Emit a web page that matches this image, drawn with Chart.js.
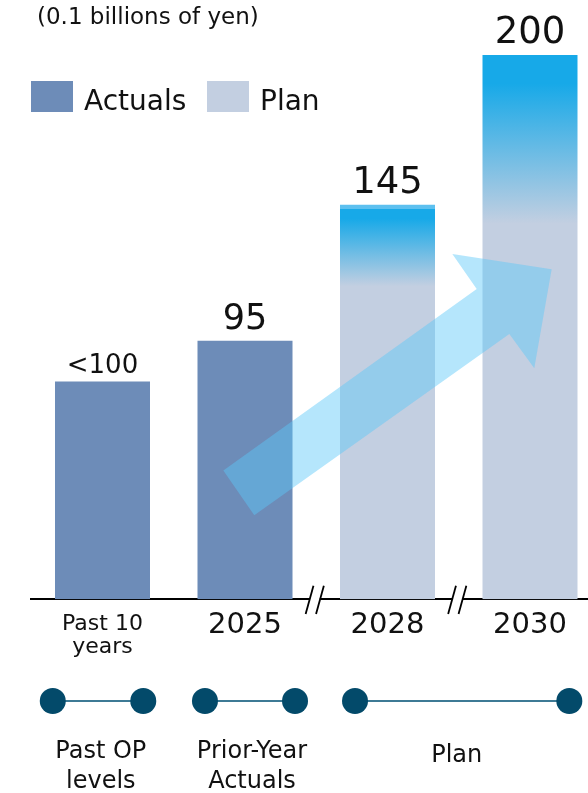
<!DOCTYPE html>
<html><head><meta charset="utf-8">
<script src="https://cdn.jsdelivr.net/npm/chart.js@4.4.1/dist/chart.umd.min.js"></script>
<style>
html,body{margin:0;padding:0;overflow:hidden;background:#fff;width:588px;height:793px}
canvas{display:block}
</style></head>
<body><canvas id="c" width="610" height="793"></canvas>
<script>
// ---- data ----
const categories = [['Past 10', 'years'], '2025', '2028', '2030'];
const actuals = [80, 95, null, null];
const plan = [null, null, 145, 200];
const valueLabels = ['<100', '95', '145', '200'];
const seriesNames = ['Actuals', 'Plan'];
const unitLabel = '(0.1 billions of yen)';
const periodLabels = [['Past OP', 'levels'], ['Prior-Year', 'Actuals'], ['Plan']];

// ---- styles ----
const FONT = '"DejaVu Sans", Verdana, sans-serif';
const TXT = '#111111';
const ACT_COLOR = '#6d8cb8';
const PLAN_COLOR = '#c3cfe1';
const BLUE = '#17a9e8';

function planFill(c) {
  if (c.type !== 'data' || c.raw == null) return PLAN_COLOR;
  const chart = c.chart;
  const y = chart.scales && chart.scales.y;
  if (!y || !chart.chartArea) return PLAN_COLOR;
  const top = y.getPixelForValue(c.raw);
  const fadeTo = {2: 115, 3: 138}[c.dataIndex];
  const end = y.getPixelForValue(fadeTo);
  const g = chart.ctx.createLinearGradient(0, top, 0, end);
  if (c.dataIndex === 2) {
    g.addColorStop(0, '#5dc0ef');
    g.addColorStop(0.05, '#5dc0ef');
    g.addColorStop(0.051, BLUE);
  } else {
    g.addColorStop(0, BLUE);
  }
  g.addColorStop(0.17, BLUE);
  g.addColorStop(1, PLAN_COLOR);
  return g;
}

const deco = {
  id: 'deco',
  afterDatasetsDraw(chart) {
    const {ctx, scales: {x, y}} = chart;
    // trend arrow (in data space)
    const pts = [[0.848, 47.3], [2.626, 114.0], [2.455, 126.9], [3.152, 121.3], [3.030, 84.9], [2.855, 97.5], [1.065, 30.9]];
    ctx.save();
    ctx.beginPath();
    pts.forEach(([a, b], i) => {
      const px = x.getPixelForValue(a), py = y.getPixelForValue(b);
      if (i) ctx.lineTo(px, py); else ctx.moveTo(px, py);
    });
    ctx.closePath();
    ctx.fillStyle = 'rgba(91,200,249,0.45)';
    ctx.fill();
    ctx.restore();

    // value labels
    const sizes = [26, 35, 37, 37];
    const gaps = [9, 12, 12, 12];
    ctx.save();
    ctx.fillStyle = TXT;
    ctx.textAlign = 'center';
    ctx.textBaseline = 'alphabetic';
    valueLabels.forEach((t, j) => {
      let el = null;
      chart.data.datasets.forEach((ds, i) => {
        if (ds.data[j] != null) el = chart.getDatasetMeta(i).data[j];
      });
      if (!el) return;
      ctx.font = sizes[j] + 'px ' + FONT;
      ctx.fillText(t, el.x, el.y - gaps[j]);
    });
    ctx.restore();
  },
  afterDraw(chart) {
    const {ctx, chartArea, scales: {x}} = chart;
    const b = chartArea.bottom;
    ctx.save();
    // axis breaks
    [1.5, 2.5].forEach(v => {
      const cx = x.getPixelForValue(v) - 1.5;
      ctx.fillStyle = '#fff';
      ctx.fillRect(cx - 5, b - 2, 10, 4);
      ctx.strokeStyle = '#000';
      ctx.lineWidth = 1.8;
      [-5.2, 5.2].forEach(dx => {
        const sx = cx + dx;
        ctx.beginPath();
        ctx.moveTo(sx - 3.9, b + 14.7);
        ctx.lineTo(sx + 3.9, b - 13.6);
        ctx.stroke();
      });
    });

    // unit label
    ctx.fillStyle = TXT;
    ctx.textAlign = 'left';
    ctx.textBaseline = 'alphabetic';
    ctx.font = '23px ' + FONT;
    ctx.fillText(unitLabel, 37, 24);

    // legend
    const legendItems = [[31, ACT_COLOR], [207, PLAN_COLOR]];
    ctx.font = '28px ' + FONT;
    legendItems.forEach(([lx, col], i) => {
      ctx.fillStyle = col;
      ctx.fillRect(lx, 81, 42, 31);
      ctx.fillStyle = TXT;
      ctx.fillText(seriesNames[i], lx + 53, 109.5);
    });

    // period timeline
    const segs = [[-0.349, 0.286], [0.719, 1.351], [1.772, 3.276]];
    const labelPos = [-0.012, 1.049, 2.486];
    const ty = 701;
    segs.forEach(([a, c], i) => {
      const xa = x.getPixelForValue(a), xc = x.getPixelForValue(c);
      ctx.strokeStyle = '#3e7a95';
      ctx.lineWidth = 1.8;
      ctx.beginPath();
      ctx.moveTo(xa, ty);
      ctx.lineTo(xc, ty);
      ctx.stroke();
      ctx.fillStyle = '#034a6a';
      [xa, xc].forEach(px => {
        ctx.beginPath();
        ctx.arc(px, ty, 13, 0, Math.PI * 2);
        ctx.fill();
      });
      ctx.fillStyle = TXT;
      ctx.textAlign = 'center';
      ctx.textBaseline = 'middle';
      ctx.font = '24px ' + FONT;
      const lines = periodLabels[i];
      const lx = x.getPixelForValue(labelPos[i]);
      const y0 = lines.length === 1 ? 755.5 : 751.5;
      lines.forEach((t, k) => ctx.fillText(t, lx, y0 + k * 30));
    });
    ctx.restore();
  }
};

new Chart(document.getElementById('c'), {
  type: 'bar',
  data: {
    labels: categories,
    datasets: [
      {label: seriesNames[0], data: actuals, backgroundColor: ACT_COLOR,
       barPercentage: 0.6667, categoryPercentage: 1, grouped: false},
      {label: seriesNames[1], data: plan, backgroundColor: planFill,
       barPercentage: 0.6667, categoryPercentage: 1, grouped: false}
    ]
  },
  options: {
    responsive: false,
    animation: false,
    devicePixelRatio: 1,
    layout: {padding: {left: 31.25, right: 8.75, top: 0, bottom: 0}},
    plugins: {legend: {display: false}, tooltip: {enabled: false}, title: {display: false}},
    scales: {
      x: {
        offset: true,
        grid: {display: false, drawTicks: false},
        border: {display: true, color: '#000', width: 2},
        ticks: {
          color: TXT, padding: 13, maxRotation: 0, autoSkip: false,
          font: (c) => c.index === 0
            ? {family: FONT, size: 22, lineHeight: 1.06}
            : {family: FONT, size: 29, lineHeight: 0.91}
        },
        afterFit: (s) => { s.height = 193.7; }
      },
      y: {display: false, min: 0, max: 220.2}
    }
  },
  plugins: [deco]
});
</script>
</body></html>
